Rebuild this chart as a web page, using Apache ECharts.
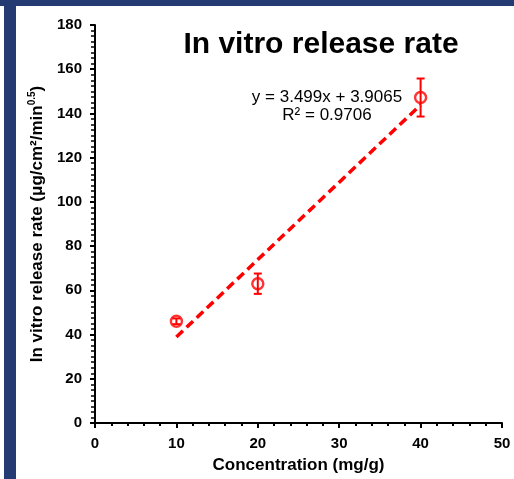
<!DOCTYPE html>
<html>
<head>
<meta charset="utf-8">
<script src="https://cdn.jsdelivr.net/npm/echarts@6/dist/echarts.min.js"></script>
<style>html,body{margin:0;padding:0;background:#fff;}#c{width:514px;height:479px;}</style>
</head>
<body>
<div id="c"></div>
<script>
const concentration = [10, 20, 40];
const releaseRate = [46, 63, 147.2];
const releaseErr = [1.3, 4.6, 8.6];
const trendSlope = 3.499;
const trendIntercept = 3.9065;
const trendX = [10, 40];
const xTicks = [0, 10, 20, 30, 40, 50];
const yTicks = [0, 20, 40, 60, 80, 100, 120, 140, 160, 180];

const RED = '#ff0000';
const pts = concentration.map((x, i) => [x, releaseRate[i], releaseErr[i]]);
const trend = trendX.map(x => [x, trendSlope * x + trendIntercept]);

const chart = echarts.init(document.getElementById('c'), null, {renderer: 'canvas'});
const FONT = 'Liberation Sans, Arial, sans-serif';
chart.setOption({
  backgroundColor: '#fff',
  animation: false,
  title: {
    text: 'In vitro release rate',
    left: 316, top: 25, textAlign: 'center',
    textStyle: {fontFamily: FONT, fontWeight: 'bold', fontSize: 30, color: '#000'}
  },
  grid: {left: 95, right: 12, top: 25, bottom: 51, containLabel: false},
  xAxis: {
    type: 'value', min: 0, max: 50, interval: 10,
    name: 'Concentration (mg/g)', nameLocation: 'middle', nameGap: 34,
    nameTextStyle: {fontFamily: FONT, fontWeight: 'bold', fontSize: 17, color: '#000'},
    axisLine: {lineStyle: {color: '#000', width: 2}},
    axisTick: {show: true, inside: false, length: 5, lineStyle: {color: '#000', width: 2}},
    minorTick: {show: true, splitNumber: 5, length: 3, lineStyle: {color: '#000', width: 2}},
    splitLine: {show: false},
    axisLabel: {fontFamily: FONT, fontWeight: 'bold', fontSize: 15, color: '#000', margin: 13,
      formatter: v => xTicks.includes(v) ? String(v) : ''}
  },
  yAxis: {
    type: 'value', min: 0, max: 180, interval: 20,
    name: '{a|In vitro release rate (μg/cm²/min}{s|0.5}{a|)}', nameLocation: 'middle', nameGap: 41,
    nameTextStyle: {
      rich: {
        a: {fontFamily: FONT, fontWeight: 'bold', fontSize: 17, color: '#000', lineHeight: 20},
        s: {fontFamily: FONT, fontWeight: 'bold', fontSize: 10, color: '#000', lineHeight: 11, verticalAlign: 'top'}
      }
    },
    axisLine: {lineStyle: {color: '#000', width: 2}},
    axisTick: {show: true, inside: false, length: 5, lineStyle: {color: '#000', width: 2}},
    minorTick: {show: true, splitNumber: 8, length: 4, lineStyle: {color: '#000', width: 1.5}},
    splitLine: {show: false},
    axisLabel: {fontFamily: FONT, fontWeight: 'bold', fontSize: 15, color: '#000', margin: 13,
      formatter: v => yTicks.includes(v) ? String(v) : ''}
  },
  graphic: [
    {type: 'rect', shape: {x: 0, y: 0, width: 514, height: 6}, style: {fill: '#243a72'}, z: 100},
    {type: 'rect', shape: {x: 4, y: 0, width: 12, height: 479}, style: {fill: '#243a72'}, z: 100},
    {type: 'text', x: 327, y: 88, style: {text: 'y = 3.499x + 3.9065\nR² = 0.9706', textAlign: 'center',
      textVerticalAlign: 'top', verticalAlign: 'top',
      font: '17px ' + FONT, fill: '#000', lineHeight: 18}}
  ],
  series: [
    {
      type: 'line', data: trend, symbol: 'none', z: 2,
      lineStyle: {color: RED, width: 3.5, type: [9, 5]}
    },
    {
      type: 'scatter', data: pts.map(p => [p[0], p[1]]), symbol: 'circle', symbolSize: 11, z: 3,
      itemStyle: {color: '#fff', borderColor: RED, borderWidth: 2.4}
    },
    {
      type: 'custom', z: 4, data: pts,
      renderItem: function (params, api) {
        const x = api.value(0), y = api.value(1), e = api.value(2);
        const top = api.coord([x, y + e]);
        const bot = api.coord([x, y - e]);
        const hw = 4;
        return {
          type: 'group',
          children: [
            {type: 'line', shape: {x1: top[0], y1: top[1], x2: bot[0], y2: bot[1]}, style: {stroke: RED, lineWidth: 2}},
            {type: 'line', shape: {x1: top[0] - hw, y1: top[1], x2: top[0] + hw, y2: top[1]}, style: {stroke: RED, lineWidth: 2}},
            {type: 'line', shape: {x1: bot[0] - hw, y1: bot[1], x2: bot[0] + hw, y2: bot[1]}, style: {stroke: RED, lineWidth: 2}}
          ]
        };
      }
    }
  ]
});
</script>
</body>
</html>
